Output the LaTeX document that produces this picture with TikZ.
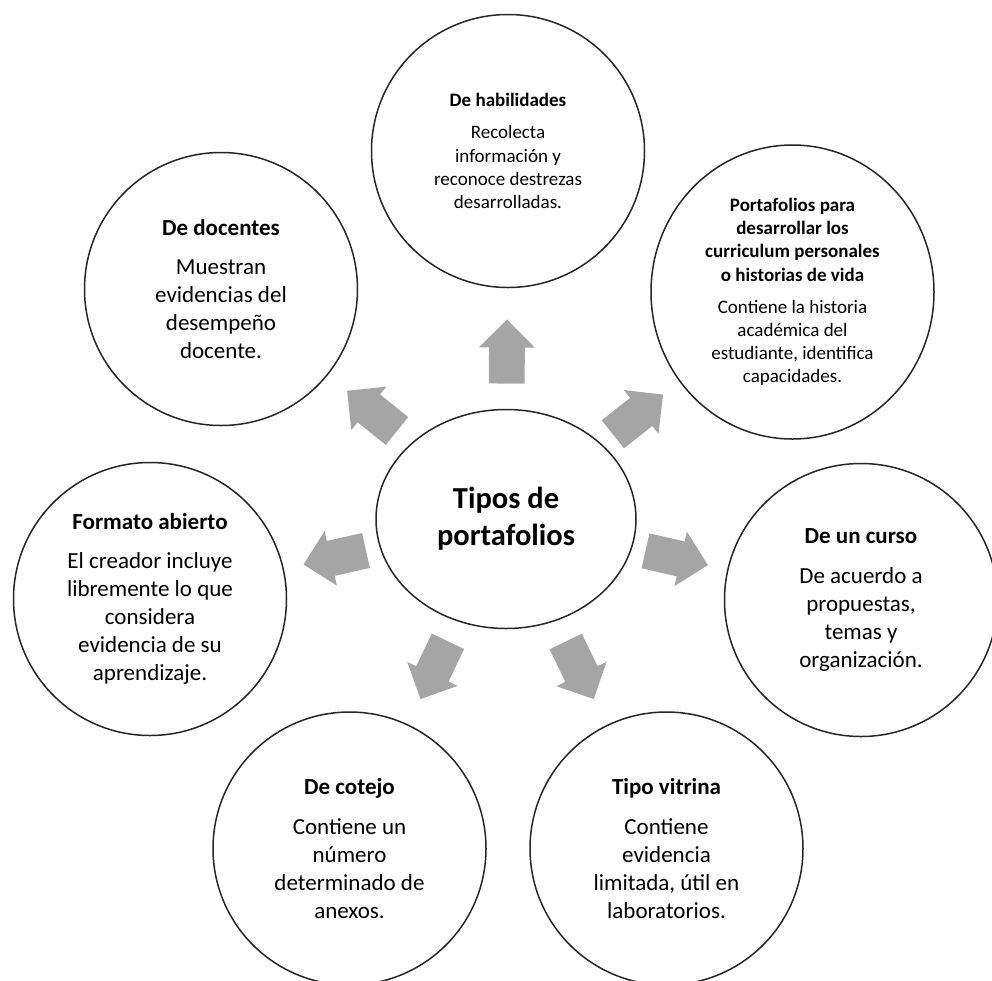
\documentclass[tikz,border=0pt]{standalone}
\usepackage{fontspec}
\setmainfont{Carlito}
\usepackage{tikz}
\usetikzlibrary{positioning,shapes.geometric,shapes.arrows}
\definecolor{arrowGray}{HTML}{A5A5A5}
\definecolor{lineGray}{HTML}{262626}

\begin{document}
\begin{tikzpicture}
[ x=0.5pt, y=-0.5pt,
		main/.style={ellipse,draw=lineGray,line width=0.75pt,minimum width=130pt,minimum height=109.5pt,inner sep=0pt,align=center,font=\bfseries\fontsize{15.25}{18.5}\selectfont},
		kind/.style={circle,draw=lineGray,line width=0.75pt,minimum size=136.5pt,inner sep=0pt,align=center,font=\fontsize{11.5}{14}\selectfont},
		kindSmall/.style={kind,font=\fontsize{9.5}{11.6}\selectfont},
		blockArrow/.style={single arrow,fill=arrowGray,draw=none,inner xsep=0pt,inner ysep=8.75pt,single arrow head extend=5pt,minimum height=32pt,sloped,allow upside down,xshift=-6pt}]

	\useasboundingbox (0,0) rectangle (992,981);

	\node[main] (tipos) at (506,519) {Tipos de\\portafolios};
	\node[kindSmall] (habilidades) at (508,151) {\textbf{De habilidades}\\[4.4pt] Recolecta\\ información y\\ reconoce destrezas\\ desarrolladas.};
	\node[kindSmall,ellipse,minimum width=141.5pt,minimum height=147pt] (portafolios) at (792.5,292) {\textbf{Portafolios para}\\ \textbf{desarrollar los}\\ \textbf{curriculum personales}\\ \textbf{o historias de vida}\\[4.4pt] Contiene la historia\\ académica del\\ estudiante, identifica\\ capacidades.};
	\node[kind] (docentes) at (221,289) {\textbf{De docentes}\\[5.8pt] Muestran\\ evidencias del\\ desempeño\\ docente.};
	\node[kind] (abierto) at (150,599) {\textbf{Formato abierto}\\[5.8pt] El creador incluye\\ libremente lo que\\ considera\\ evidencia de su\\ aprendizaje.};
	\node[kind] (curso) at (861,600) {\textbf{De un curso}\\[5.8pt] De acuerdo a\\ propuestas,\\ temas y\\ organización.};
	\node[kind] (cotejo) at (349.5,848.5) {\textbf{De cotejo}\\[5.8pt] Contiene un\\ número\\ determinado de\\ anexos.};
	\node[kind] (vitrina) at (666.5,848.5) {\textbf{Tipo vitrina}\\[5.8pt] Contiene\\ evidencia\\ limitada, útil en\\ laboratorios.};

	\path (tipos) -- node[blockArrow] {} (habilidades);
	\path (tipos) -- node[blockArrow] {} (portafolios);
	\path (tipos) -- node[blockArrow] {} (docentes);
	\path (tipos) -- node[blockArrow] {} (abierto);
	\path (tipos) -- node[blockArrow] {} (curso);
	\path (tipos) -- node[blockArrow] {} (cotejo);
	\path (tipos) -- node[blockArrow] {} (vitrina);
\end{tikzpicture}
\end{document}
